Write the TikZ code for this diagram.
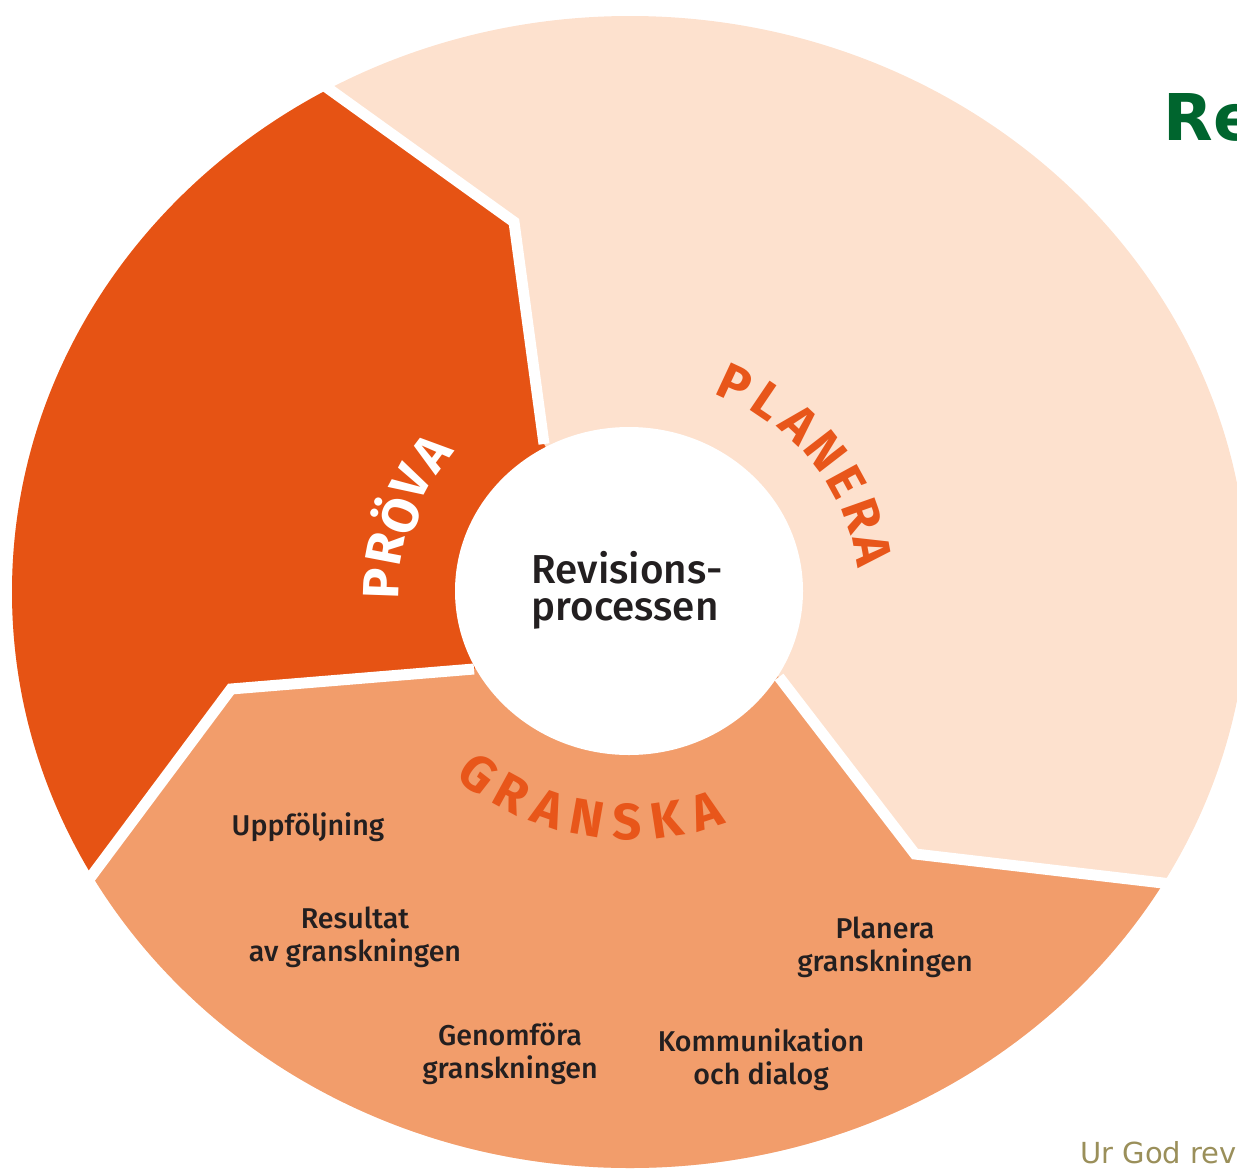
\documentclass[tikz,border=0pt]{standalone}
\usepackage{fontspec}
\setmainfont{Fira Sans}
\newfontfamily\labelfont{Fira Sans}[UprightFont=* Medium]
\newfontfamily\sourcefont{DejaVu Sans}

\definecolor{provaorange}{HTML}{E65314}
\definecolor{planerapale}{HTML}{FDE1CE}
\definecolor{granskaorange}{HTML}{F29D6B}
\definecolor{phaseorange}{HTML}{E8561A}
\definecolor{labeldark}{HTML}{231F20}
\definecolor{titlegreen}{HTML}{00652E}
\definecolor{sourceolive}{HTML}{9A8F5A}

\tikzset{
  phasegap/.style={draw=white, line width=0.22cm, line join=miter},
  phaseletter/.style={inner sep=0pt, font=\bfseries\fontsize{29}{29}\selectfont},
  steplabel/.style={inner sep=0pt, align=center, text=labeldark,
    font=\labelfont\fontsize{16.3}{18.7}\selectfont},
}

\begin{document}
\begin{tikzpicture}[x=0.02cm, y=-0.02cm]
      \useasboundingbox (0,0) rectangle (1237,1173);
      % Outer disc (PLANERA colour underneath)
      \fill[planerapale] (630,592) ellipse [x radius=618, y radius=576];
      \begin{scope}
        \clip (630,592) ellipse [x radius=618, y radius=576];
        % PRÖVA sector
        \fill[provaorange] (630,592) -- (544,444) -- (514,222) -- (322,84) -- (130,-54)
          -- (-60,-54) -- (-60,1079) -- (-45,1059) -- (93,874) -- (231,689) -- (474,669) -- cycle;
        % GRANSKA sector
        \fill[granskaorange] (630,592) -- (474,669) -- (231,689) -- (93,874) -- (-45,1059)
          -- (-60,1250) -- (1320,1250) -- (1320,901) -- (1163,883) -- (915,854) -- (779,677) -- cycle;
      \end{scope}
      % White gaps between the phases
      \draw[phasegap] (544,444) -- (514,222) -- (322,84) -- (280,54);
      \draw[phasegap] (474,669) -- (231,689) -- (93,874) -- (60,918);
      \draw[phasegap] (779,677) -- (915,854) -- (1163,883) -- (1210,889);
      % Inner disc
      \fill[white] (629,591) ellipse [x radius=174, y radius=164];
      \node[inner sep=0pt, align=left, text=labeldark,
        font=\labelfont\fontsize{23}{21}\selectfont] (centre) at (627,590) {Revisions-\\processen};
      % Phase names along the ring
      \foreach \ch [count=\i] in {P,L,A,N,E,R,A} {
        \pgfmathsetmacro\ang{65-9.1*(\i-1)}
        \node[phaseletter, text=phaseorange, rotate=\ang-90] (planera\i)
          at ([shift={(630,592)}] -\ang:247 and 230) {\ch};
      }
      \foreach \ch [count=\i] in {G,R,A,N,S,K,A} {
        \pgfmathsetmacro\ang{-128+9.33*(\i-1)}
        \node[phaseletter, text=phaseorange, rotate=\ang+90] (granska\i)
          at ([shift={(630,592)}] -\ang:247 and 230) {\ch};
      }
      \foreach \ch [count=\i] in {P,R,Ö,V,A} {
        \pgfmathsetmacro\ang{178-8.75*(\i-1)}
        \node[phaseletter, text=white, rotate=\ang-90] (prova\i)
          at ([shift={(630,592)}] -\ang:249 and 232) {\ch};
      }
      % Steps of GRANSKA
      \node[steplabel] (uppfoljning) at (308,827) {Uppföljning};
      \node[steplabel] (resultat) at (355,937) {Resultat\\av granskningen};
      \node[steplabel] (genomfora) at (510,1054) {Genomföra\\granskningen};
      \node[steplabel] (planeragr) at (885,947) {Planera\\granskningen};
      \node[steplabel] (kommunikation) at (761,1060) {Kommunikation\\och dialog};
      % Title and source, cut by the page edge
      \node[anchor=base west, inner sep=0pt, text=titlegreen,
        font=\sourcefont\bfseries\fontsize{36.7}{40}\selectfont] (title) at (1163,140) {Re};
      \node[anchor=base west, inner sep=0pt, text=sourceolive,
        font=\sourcefont\fontsize{16.5}{18}\selectfont] (source) at (1080,1163) {Ur God rev};
\end{tikzpicture}
\end{document}
